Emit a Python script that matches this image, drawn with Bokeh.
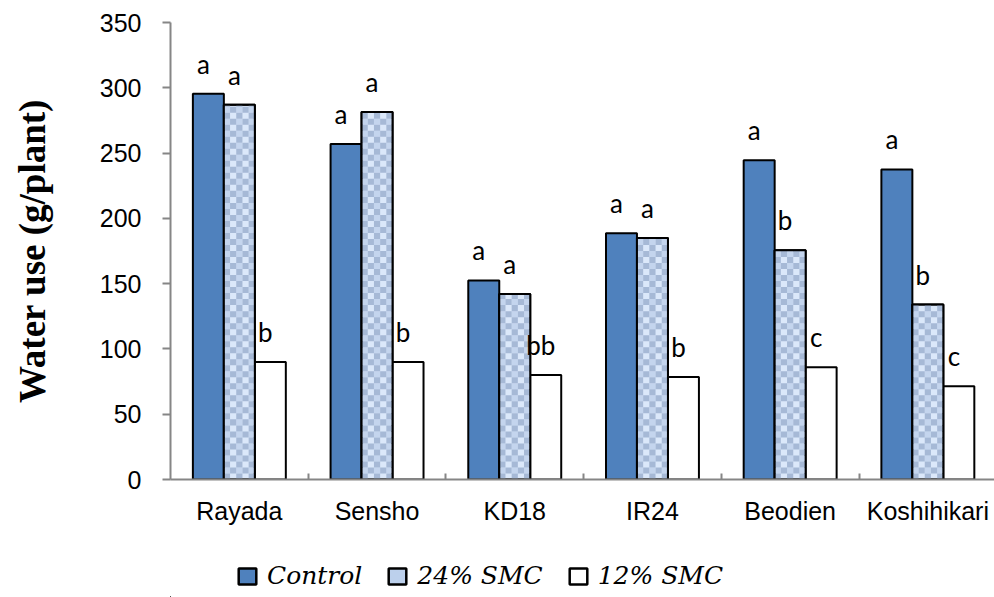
import math
from bokeh.plotting import figure
from bokeh.layouts import column
from bokeh.models import (FixedTicker, Legend, LegendItem, ColumnDataSource, Range1d)
from bokeh.core.properties import value
from bokeh.embed import file_html
from bokeh.resources import INLINE

# ---- data ----
cultivars = ["Rayada", "Sensho", "KD18", "IR24", "Beodien", "Koshihikari"]
series_names = ["Control", "24% SMC", "12% SMC"]
control = [295.5, 257, 152.5, 188.5, 244.5, 237.5]
smc24 = [287, 281.5, 142, 185, 175.5, 134]
smc12 = [90, 90, 80, 78.5, 86, 71.5]
letters_control = ["a", "a", "a", "a", "a", "a"]
letters_smc24 = ["a", "a", "a", "a", "b", "b"]
letters_smc12 = ["b", "b", "bb", "b", "c", "c"]
y_ticks = [0, 50, 100, 150, 200, 250, 300, 350]
y_label = "Water use (g/plant)"

# ---- style ----
GREY = "#868686"
BAR_W = 0.225
offsets = [-BAR_W, 0.0, BAR_W]
Y_MAX = 350
fills = ["#4f81bd", "#dbe8fa", "white"]

p = figure(width=994, height=540, output_backend="svg", toolbar_location=None,
           x_range=Range1d(-0.5, 5.484), y_range=Range1d(0, Y_MAX),
           min_border_left=170, min_border_right=0, min_border_top=22,
           min_border_bottom=61)
p.outline_line_color = None
p.xgrid.visible = False
p.ygrid.visible = False
p.background_fill_color = "white"
p.border_fill_color = "white"

idx = list(range(len(cultivars)))
series = [control, smc24, smc12]
letters = [letters_control, letters_smc24, letters_smc12]

bar_sources = []
for k, (vals, labs) in enumerate(zip(series, letters)):
    src = ColumnDataSource(dict(x=[i + offsets[k] for i in idx], top=vals, lab=labs))
    bar_sources.append(src)
    p.vbar(x="x", top="top", width=BAR_W, source=src, fill_color=fills[k],
           line_color="black", line_width=2)

# checkerboard texture for the 24% SMC bars, built from the bar values
ncols = 5
cw = BAR_W / ncols
ch = Y_MAX / 76.0
dark = dict(left=[], right=[], bottom=[], top=[])
mid = dict(left=[], right=[], bottom=[], top=[])
for i, v in zip(idx, smc24):
    x0 = i + offsets[1] - BAR_W / 2
    nrows = int(math.ceil(v / ch))
    for r_ in range(nrows):
        b = r_ * ch
        t = min(v, b + ch)
        for c in range(ncols):
            tgt = dark if (r_ + c) % 2 == 0 else (mid if c % 2 == 0 else None)
            if tgt is None:
                continue
            tgt["left"].append(x0 + c * cw)
            tgt["right"].append(x0 + (c + 1) * cw)
            tgt["bottom"].append(b)
            tgt["top"].append(t)
p.quad(source=ColumnDataSource(mid), left="left", right="right", bottom="bottom",
       top="top", fill_color="#c4d5ee", line_color=None)
p.quad(source=ColumnDataSource(dark), left="left", right="right", bottom="bottom",
       top="top", fill_color="#a6b9d6", line_color=None)
p.vbar(x="x", top="top", width=BAR_W, source=bar_sources[1], fill_color=None,
       line_color="black", line_width=2)

for src in bar_sources:
    p.text(x="x", y="top", text="lab", source=src, text_align="center",
           text_baseline="middle", y_offset=-30, x_offset=-5,
           text_font=value("Lato"), text_font_size="26px", text_color="black")

# x axis
xa = p.xaxis[0]
xa.ticker = FixedTicker(ticks=idx, minor_ticks=[i + 0.5 for i in idx[:-1]])
xa.major_label_overrides = {i: c for i, c in zip(idx, cultivars)}
xa.major_tick_line_color = None
xa.major_tick_in = 0
xa.major_tick_out = 0
xa.minor_tick_in = 6
xa.minor_tick_out = 0
xa.minor_tick_line_color = GREY
xa.minor_tick_line_width = 2
xa.axis_line_color = GREY
xa.axis_line_width = 2
xa.major_label_standoff = 17
xa.major_label_text_font = "Liberation Sans"
xa.major_label_text_font_size = "25px"
xa.major_label_text_color = "black"

# y axis
ya = p.yaxis[0]
ya.ticker = FixedTicker(ticks=y_ticks)
ya.minor_tick_line_color = None
ya.major_tick_in = 0
ya.major_tick_out = 8
ya.major_tick_line_color = GREY
ya.major_tick_line_width = 2
ya.axis_line_color = GREY
ya.axis_line_width = 2
ya.major_label_standoff = 21
ya.major_label_text_font = "Liberation Sans"
ya.major_label_text_font_size = "25px"
ya.major_label_text_color = "black"
ya.axis_label = y_label
ya.axis_label_text_font = "Liberation Serif"
ya.axis_label_text_font_style = "bold"
ya.axis_label_text_font_size = "37px"
ya.axis_label_text_color = "black"
ya.axis_label_standoff = 44

# ---- legend strip ----
pl = figure(width=994, height=57, output_backend="svg", toolbar_location=None,
            x_range=Range1d(0, 1), y_range=Range1d(0, 1),
            x_axis_location=None, y_axis_location=None,
            min_border=0, min_border_left=0, min_border_right=0,
            min_border_top=0, min_border_bottom=0)
pl.outline_line_color = None
pl.xgrid.visible = False
pl.ygrid.visible = False
pl.background_fill_color = "white"
pl.border_fill_color = "white"

items = []
for k in range(3):
    # a single bar per series placed far outside the visible range; it only feeds the swatch
    r = pl.vbar(x="x", top="top", bottom="bottom", width=0.01,
                source=ColumnDataSource(dict(x=[-500], top=[-500], bottom=[-501])),
                fill_color=fills[k] if k != 1 else "#bcd0ec",
                line_color="black", line_width=2.5)
    items.append(LegendItem(label=series_names[k], renderers=[r]))

legend = Legend(items=items, orientation="horizontal", location=(66, 7),
                padding=0, margin=0, spacing=24, label_standoff=9,
                glyph_width=22, glyph_height=20,
                border_line_color=None, background_fill_alpha=0,
                label_text_font="DejaVu Serif", label_text_font_style="italic",
                label_text_font_size="25px", label_text_color="black")
pl.add_layout(legend, "center")

layout = column(p, pl, spacing=0)
open("out.html", "w").write(file_html(layout, INLINE))
